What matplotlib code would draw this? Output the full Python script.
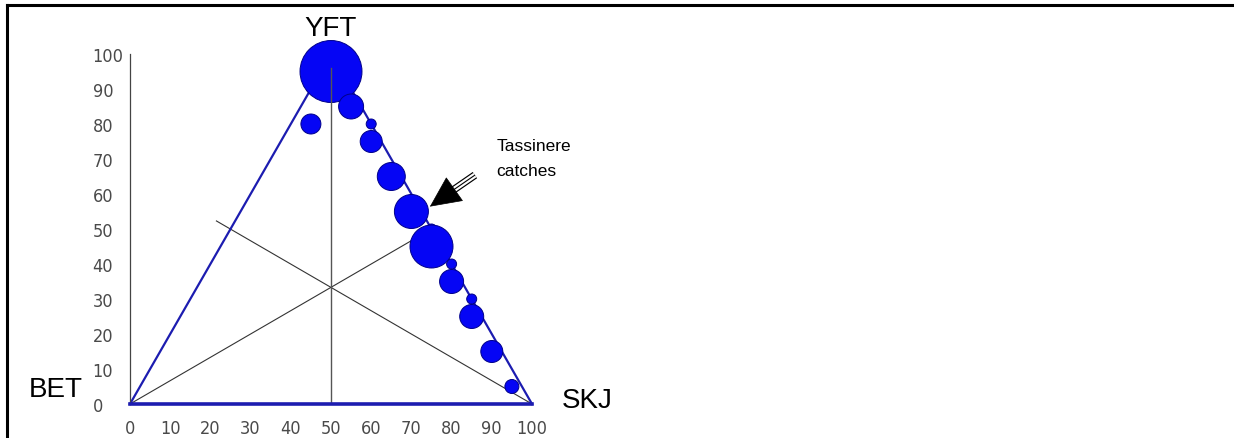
import matplotlib as mpl
mpl.use('Agg')
import matplotlib.pyplot as plt
from matplotlib.lines import Line2D
from matplotlib import rcParams

rcParams['font.family'] = ['Liberation Sans', 'DejaVu Sans']

# ternary-ish catch composition: % SKJ along x, % YFT along y
skj_pct  = [50, 45, 55, 60, 60, 65, 70, 75, 75, 80, 80, 85, 85, 90, 95]
yft_pct  = [95, 80, 85, 80, 75, 65, 55, 50, 45, 40, 35, 30, 25, 15, 5]
catch_sz = [960, 100, 156, 25, 121, 196, 289, 25, 462, 25, 144, 25, 144, 121, 49]  # relative catch (radius^2 in px)

ticks       = [0, 10, 20, 30, 40, 50, 60, 70, 80, 90, 100]
minor_ticks = [10, 30, 50, 70, 90]
apex   = (50, 100)
corner = [(0, 0), (100, 0)]

BLUE_LINE = '#1c1cb0'
BUBBLE    = '#0505f5'
TICK_GRAY = '#4a4a4a'
#--------------------------------------------------------------------------------------------------
fig = plt.figure(figsize=(12.34, 4.39), dpi=100)
ax  = fig.add_axes([130/1234., 34/439., 402/1234., 350/439.])
ax.set_xlim(0, 100)
ax.set_ylim(0, 100)
ax.patch.set_visible(False)

for s in ['top', 'right']:
    ax.spines[s].set_visible(False)
ax.spines['left'].set_color('#444444')
ax.spines['left'].set_linewidth(0.9)
ax.spines['bottom'].set_color(BLUE_LINE)
ax.spines['bottom'].set_linewidth(2.6)
ax.spines['bottom'].set_zorder(5)

ax.set_xticks(ticks)
ax.set_yticks(ticks)
ax.set_xticks(minor_ticks, minor=True)
ax.set_yticks(minor_ticks, minor=True)
tick_font = {'family': ['DejaVu Sans'], 'stretch': 'condensed', 'size': 13, 'color': TICK_GRAY}
ax.set_xticklabels([str(t) for t in ticks], **tick_font)
ax.set_yticklabels([str(t) for t in ticks], **tick_font)
ax.tick_params(axis='x', which='major', length=0, pad=11)
ax.tick_params(axis='y', which='major', length=0, pad=27)
ax.tick_params(which='minor', direction='in', length=3, width=0.8, color='#444444')
for t in ax.get_yticklabels():
    t.set_horizontalalignment('left')

# triangle sides
ax.plot([corner[0][0], apex[0]], [corner[0][1], apex[1]], color=BLUE_LINE, lw=1.6, zorder=2, clip_on=False)
ax.plot([corner[1][0], apex[0]], [corner[1][1], apex[1]], color=BLUE_LINE, lw=1.6, zorder=2, clip_on=False)

# medians
ax.plot([0, 75], [0, 50], color='#333333', lw=0.8, zorder=1)
ax.plot([100, 21.5], [0, 52.3], color='#333333', lw=0.8, zorder=1)

# bubbles
ax.scatter(skj_pct, yft_pct, s=[(2 * (c ** 0.5) * 0.72) ** 2 for c in catch_sz],
           color=BUBBLE, edgecolor='#00008a', linewidths=0.7, zorder=3, clip_on=False)

# vertical median on top
ax.plot([50, 50], [0, 96], color='#555555', lw=1.0, zorder=4)

# corner labels
ax.text(50, 105.5, 'YFT', fontsize=20, ha='center', va='baseline', clip_on=False)
ax.text(-25.1, 2.3, 'BET', fontsize=20, ha='left', va='baseline', clip_on=False)
ax.text(107.5, -0.9, 'SKJ', fontsize=20, ha='left', va='baseline', clip_on=False)

# arrow with triple shaft
tail, head_base, tip = (85.8, 65.4), (80.5, 61.2), (74.6, 56.4)
ax.plot([tail[0], head_base[0]], [tail[1], head_base[1]], color='black', lw=5.5, solid_capstyle='butt', zorder=6)
ax.plot([tail[0], head_base[0]], [tail[1], head_base[1]], color='white', lw=3.8, solid_capstyle='butt', zorder=7)
ax.plot([tail[0], head_base[0]], [tail[1], head_base[1]], color='black', lw=0.8, solid_capstyle='butt', zorder=8)
ax.annotate('', xy=tip, xytext=head_base,
            arrowprops=dict(arrowstyle='-|>,head_length=2.1,head_width=1.0', color='black',
                            lw=0.5, shrinkA=0, shrinkB=0), zorder=9)
ax.text(91.2, 72.5, 'Tassinere', fontsize=12.5, ha='left', va='baseline')
ax.text(91.2, 65.3, 'catches', fontsize=12.5, ha='left', va='baseline')

# picture frame (left and top edges)
fig.add_artist(Line2D([7/1234., 7/1234.], [0, 1 - 6/439.], transform=fig.transFigure, color='black', lw=2.2))
fig.add_artist(Line2D([7/1234., 1], [1 - 6/439., 1 - 6/439.], transform=fig.transFigure, color='black', lw=2.2))

plt.savefig('out.png', dpi=100)
